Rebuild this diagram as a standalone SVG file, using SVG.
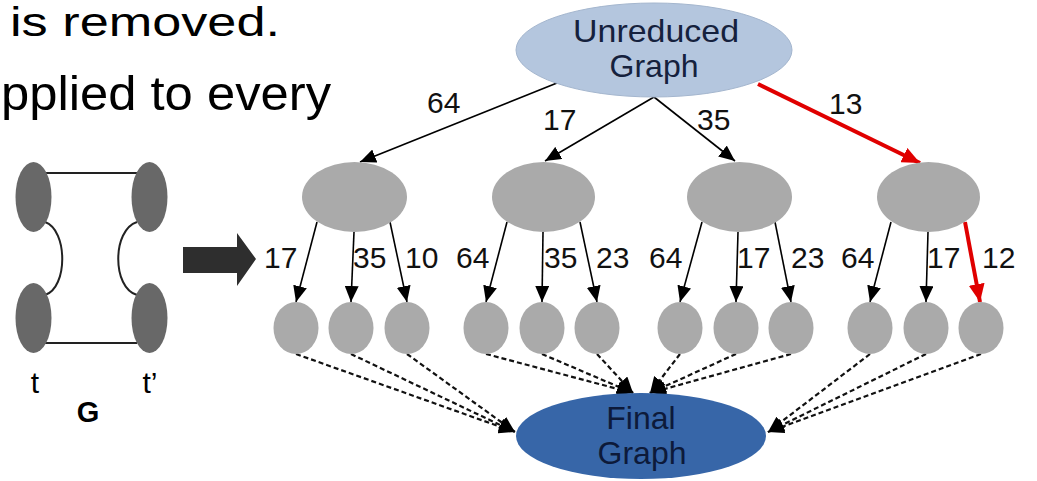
<svg xmlns="http://www.w3.org/2000/svg" width="1037" height="481" viewBox="0 0 1037 481">
<defs>
<marker id="ah" viewBox="0 0 16 14" refX="16" refY="7" markerWidth="16" markerHeight="14" markerUnits="userSpaceOnUse" orient="auto"><path d="M0,0 L16,7 L0,14 z" fill="#000"/></marker>
<marker id="ahr" viewBox="0 0 18 16" refX="18" refY="8" markerWidth="18" markerHeight="16" markerUnits="userSpaceOnUse" orient="auto"><path d="M0,0 L18,8 L0,16 z" fill="#e00000"/></marker>
<style>
.slide{font-family:"Liberation Sans",Arial,sans-serif;fill:#000}
.lbl{font-family:"Liberation Sans",Arial,sans-serif;font-size:30px;fill:#111}
.big{font-family:"Liberation Sans",Arial,sans-serif;font-size:32px;text-anchor:middle}
.mid{fill:#aaaaaa}
.leaf{fill:#aaaaaa}
.e{stroke:#000;stroke-width:1.6;fill:none;marker-end:url(#ah)}
.r{stroke:#e00000;stroke-width:4;fill:none;marker-end:url(#ahr)}
.d{stroke:#111;stroke-width:2.2;stroke-dasharray:5 3;fill:none;marker-end:url(#ah)}
.gn{fill:#686868}
.gl{stroke:#222;stroke-width:2;fill:none}
</style>
</defs>
<rect width="1037" height="481" fill="#fff"/>
<g id="slide-text">
<text class="slide" x="10" y="36" font-size="40" textLength="270" lengthAdjust="spacingAndGlyphs">is removed.</text>
<text class="slide" x="1" y="110" font-size="48" textLength="330" lengthAdjust="spacingAndGlyphs">pplied to every</text>
</g>
<g id="graph-G">
<line class="gl" x1="45" y1="173" x2="137" y2="173"/>
<line class="gl" x1="45" y1="343" x2="137" y2="343"/>
<path class="gl" d="M45,222 C68,230 68,288 45,295"/>
<path class="gl" d="M137,222 C112,230 112,288 137,295"/>
<ellipse class="gn" cx="33.5" cy="197" rx="18" ry="35"/>
<ellipse class="gn" cx="149.5" cy="197" rx="18" ry="35"/>
<ellipse class="gn" cx="33.5" cy="318" rx="18" ry="35"/>
<ellipse class="gn" cx="149.5" cy="318" rx="18" ry="35"/>
<text class="slide" x="35" y="393" font-size="30" text-anchor="middle">t</text>
<text class="slide" x="150" y="393" font-size="30" text-anchor="middle">t’</text>
<text class="slide" x="88" y="422" font-size="29" font-weight="bold" text-anchor="middle">G</text>
</g>
<g id="big-arrow">
<path d="M183,247 L237,247 L237,233 L256,259 L237,286 L237,273 L183,273 z" fill="#2e2e2e"/>
</g>
<g id="connectors">
<line class="e" x1="557" y1="83" x2="360" y2="162"/>
<line class="e" x1="654" y1="97" x2="545" y2="161"/>
<line class="e" x1="654" y1="97" x2="735" y2="161"/>
<line class="r" x1="758" y1="84" x2="920" y2="163"/>
<line class="e" x1="317" y1="222" x2="296" y2="302"/>
<line class="e" x1="354" y1="232" x2="351" y2="302"/>
<line class="e" x1="390" y1="222" x2="407" y2="302"/>
<line class="e" x1="507" y1="222" x2="486" y2="302"/>
<line class="e" x1="543" y1="232" x2="542" y2="302"/>
<line class="e" x1="580" y1="222" x2="597" y2="302"/>
<line class="e" x1="702" y1="222" x2="680" y2="302"/>
<line class="e" x1="738" y1="232" x2="736" y2="302"/>
<line class="e" x1="775" y1="222" x2="791" y2="302"/>
<line class="e" x1="891" y1="222" x2="870" y2="302"/>
<line class="e" x1="928" y1="232" x2="926" y2="302"/>
<line class="r" x1="965" y1="222" x2="980" y2="302"/>
<line class="d" x1="296" y1="354" x2="515" y2="432"/>
<line class="d" x1="351" y1="354" x2="515" y2="432"/>
<line class="d" x1="407" y1="354" x2="515" y2="432"/>
<line class="d" x1="486" y1="354" x2="633" y2="393"/>
<line class="d" x1="542" y1="354" x2="633" y2="393"/>
<line class="d" x1="597" y1="354" x2="633" y2="393"/>
<line class="d" x1="680" y1="354" x2="650" y2="393"/>
<line class="d" x1="736" y1="354" x2="650" y2="393"/>
<line class="d" x1="791" y1="354" x2="650" y2="393"/>
<line class="d" x1="870" y1="354" x2="768" y2="432"/>
<line class="d" x1="926" y1="354" x2="768" y2="432"/>
<line class="d" x1="981" y1="354" x2="768" y2="432"/>
<text class="lbl" x="427" y="113">64</text>
<text class="lbl" x="543" y="130">17</text>
<text class="lbl" x="697" y="130">35</text>
<text class="lbl" x="829" y="114">13</text>
<text class="lbl" x="264" y="268">17</text>
<text class="lbl" x="353" y="268">35</text>
<text class="lbl" x="405" y="268">10</text>
<text class="lbl" x="456" y="268">64</text>
<text class="lbl" x="544" y="268">35</text>
<text class="lbl" x="596" y="268">23</text>
<text class="lbl" x="649" y="268">64</text>
<text class="lbl" x="737" y="268">17</text>
<text class="lbl" x="791" y="268">23</text>
<text class="lbl" x="841" y="268">64</text>
<text class="lbl" x="927" y="268">17</text>
<text class="lbl" x="982" y="268">12</text>
</g>
<g id="unreduced">
<ellipse cx="654" cy="50" rx="138" ry="47" fill="#b4c6de" stroke="#a4b6ce" stroke-width="1"/>
<text class="big" x="656" y="42" textLength="166" lengthAdjust="spacingAndGlyphs" fill="#15213d">Unreduced</text>
<text class="big" x="654" y="77" fill="#15213d">Graph</text>
</g>
<g id="mid1"><ellipse class="mid" cx="354.5" cy="197" rx="52.5" ry="35"/></g>
<g id="mid2"><ellipse class="mid" cx="543.5" cy="197" rx="51.5" ry="35"/></g>
<g id="mid3"><ellipse class="mid" cx="739.5" cy="197" rx="52.5" ry="35"/></g>
<g id="mid4"><ellipse class="mid" cx="928.5" cy="197" rx="51.5" ry="35"/></g>
<g id="leaf1"><ellipse class="leaf" cx="296" cy="328" rx="22.5" ry="26"/></g>
<g id="leaf2"><ellipse class="leaf" cx="351" cy="328" rx="22.5" ry="26"/></g>
<g id="leaf3"><ellipse class="leaf" cx="407" cy="328" rx="22.5" ry="26"/></g>
<g id="leaf4"><ellipse class="leaf" cx="486" cy="328" rx="22.5" ry="26"/></g>
<g id="leaf5"><ellipse class="leaf" cx="542" cy="328" rx="22.5" ry="26"/></g>
<g id="leaf6"><ellipse class="leaf" cx="597" cy="328" rx="22.5" ry="26"/></g>
<g id="leaf7"><ellipse class="leaf" cx="680" cy="328" rx="22.5" ry="26"/></g>
<g id="leaf8"><ellipse class="leaf" cx="736" cy="328" rx="22.5" ry="26"/></g>
<g id="leaf9"><ellipse class="leaf" cx="791" cy="328" rx="22.5" ry="26"/></g>
<g id="leaf10"><ellipse class="leaf" cx="870" cy="328" rx="22.5" ry="26"/></g>
<g id="leaf11"><ellipse class="leaf" cx="926" cy="328" rx="22.5" ry="26"/></g>
<g id="leaf12"><ellipse class="leaf" cx="981" cy="328" rx="22.5" ry="26"/></g>
<g id="final">
<ellipse cx="641" cy="436" rx="125" ry="43" fill="#3766a8"/>
<text class="big" x="641" y="429" fill="#0d1a3a">Final</text>
<text class="big" x="642" y="464" fill="#0d1a3a">Graph</text>
</g>
</svg>
